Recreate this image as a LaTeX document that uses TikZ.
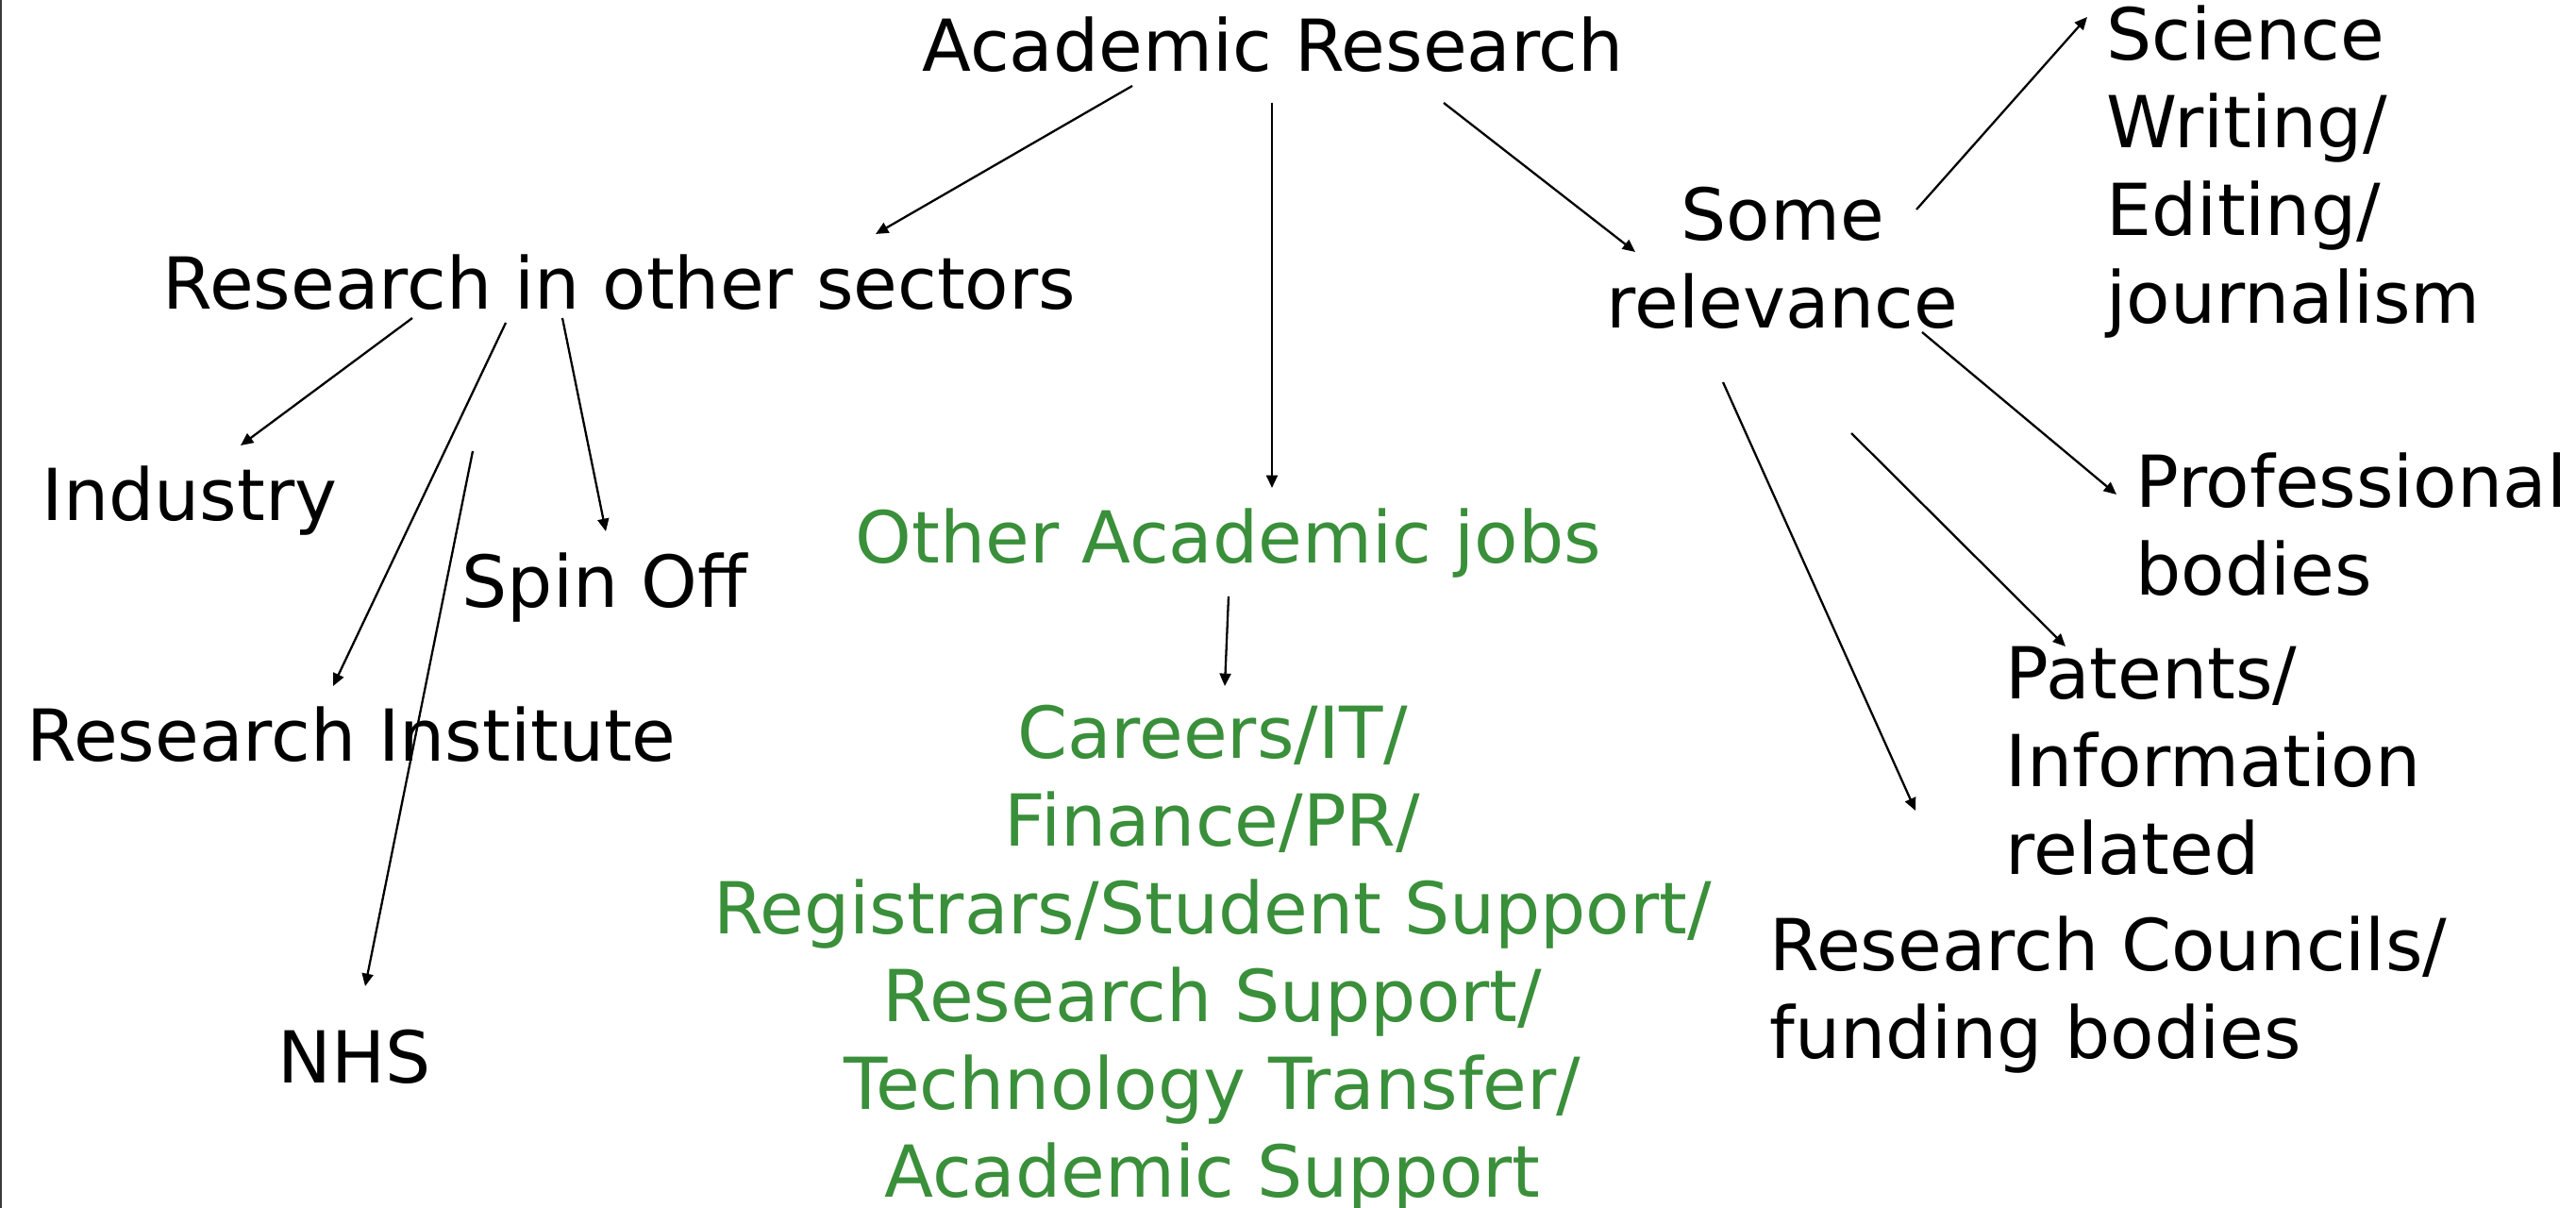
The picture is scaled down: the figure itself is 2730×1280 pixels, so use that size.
\documentclass[tikz,border=0pt]{standalone}
\usepackage{fontspec}
\setmainfont{DejaVu Sans}
\usetikzlibrary{arrows.meta}
\definecolor{jobgreen}{RGB}{58,143,58}
\definecolor{edgegray}{RGB}{60,60,60}
\begin{document}
\begin{tikzpicture}[x=0.01cm,y=-0.01cm,
  lbl/.style={inner sep=0pt, font=\fontsize{21.6}{26.5}\selectfont},
  grn/.style={lbl,text=jobgreen},
  arr/.style={line width=0.65pt,-{Triangle[length=3.8pt,width=3.4pt]}}]
\useasboundingbox[fill=white] (0,0) rectangle (2730,1280);
\draw[line width=0.6pt, edgegray] (1,0) -- (1,1280);

% nodes (multi-line nodes are placed by the baseline of their last line)
\node[lbl,anchor=base] (ar) at (1349,76) {Academic Research};
\node[lbl,anchor=base west] (rios) at (172,328) {Research in other sectors};
\node[lbl,anchor=base west] (ind) at (44,552) {Industry};
\node[lbl,anchor=base west] (spin) at (489,644) {Spin Off};
\node[lbl,anchor=base west] (ri) at (28,807) {Research Institute};
\node[lbl,anchor=base west] (nhs) at (294,1148) {NHS};
\node[grn,anchor=base west] (oaj) at (906,597) {Other Academic jobs};
\node[grn,anchor=base,align=center] (careers) at (1285,1269) {Careers/IT/\\Finance/PR/\\Registrars/Student Support/\\Research Support/\\Technology Transfer/\\Academic Support};
\node[lbl,anchor=base,align=center] (sr) at (1889,348) {Some\\relevance};
\node[lbl,anchor=base west,align=left] (sci) at (2232,343) {Science\\Writing/\\Editing/\\journalism};
\node[lbl,anchor=base west,align=left] (prof) at (2263,631) {Professional\\bodies};
\node[lbl,anchor=base west,align=left] (pat) at (2125,927) {Patents/\\Information\\related};
\node[lbl,anchor=base west,align=left] (rc) at (1875,1122) {Research Councils/\\funding bodies};

% connector end points
\coordinate (ar-l) at (1200,91);   \coordinate (rios-t) at (928,248);
\coordinate (ar-m) at (1348,109);  \coordinate (oaj-t) at (1348,517);
\coordinate (ar-r) at (1530,109);  \coordinate (sr-t) at (1733,267);
\coordinate (rios-a) at (437,337); \coordinate (ind-t) at (255,472);
\coordinate (rios-b) at (536,342); \coordinate (ri-t) at (353,727);
\coordinate (rios-c) at (596,337); \coordinate (spin-t) at (642,563);
\coordinate (nhs-s) at (501,478);  \coordinate (nhs-t) at (387,1045);
\coordinate (oaj-b) at (1302,632); \coordinate (careers-t) at (1298,727);
\coordinate (sr-a) at (2031,222);  \coordinate (sci-t) at (2212,18);
\coordinate (sr-b) at (2037,352);  \coordinate (prof-t) at (2243,524);
\coordinate (pat-s) at (1962,459); \coordinate (pat-t) at (2189,685);
\coordinate (rc-s) at (1826,405);  \coordinate (rc-t) at (2030,859);

% connectors
\draw[arr] (ar-l) -- (rios-t);
\draw[arr] (ar-m) -- (oaj-t);
\draw[arr] (ar-r) -- (sr-t);
\draw[arr] (rios-a) -- (ind-t);
\draw[arr] (rios-b) -- (ri-t);
\draw[arr] (rios-c) -- (spin-t);
\draw[arr] (nhs-s) -- (nhs-t);
\draw[arr] (oaj-b) -- (careers-t);
\draw[arr] (sr-a) -- (sci-t);
\draw[arr] (sr-b) -- (prof-t);
\draw[arr] (pat-s) -- (pat-t);
\draw[arr] (rc-s) -- (rc-t);
\end{tikzpicture}
\end{document}
